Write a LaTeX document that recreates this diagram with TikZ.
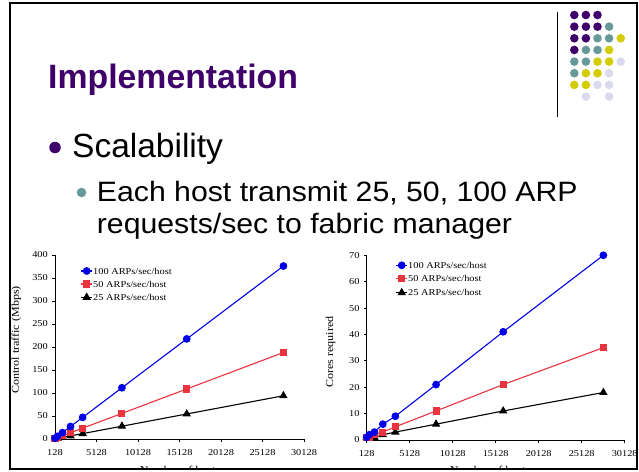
\documentclass[tikz,border=0pt]{standalone}
\usepackage{fontspec}
\setmainfont{Liberation Serif}
\newfontfamily\slidefont{Liberation Sans}
\newfontfamily\slidewide[FakeStretch=1.08]{Liberation Sans}
\newfontfamily\chartfont[FakeStretch=1.15]{Liberation Serif}
\usetikzlibrary{plotmarks}
\definecolor{ttlpurple}{RGB}{64,0,106}
\definecolor{dpurple}{RGB}{64,0,106}
\definecolor{dteal}{RGB}{102,153,153}
\definecolor{dyellow}{RGB}{210,204,0}
\definecolor{dlav}{RGB}{218,218,238}
\definecolor{cblue}{RGB}{0,0,230}
\definecolor{cred}{RGB}{232,52,62}
\tikzset{
  frameline/.style={line width=2pt, black},
  dotP/.style={circle, fill=dpurple, inner sep=0, minimum size=8.6pt},
  dotT/.style={circle, fill=dteal, inner sep=0, minimum size=8.6pt},
  dotY/.style={circle, fill=dyellow, inner sep=0, minimum size=8.6pt},
  dotL/.style={circle, fill=dlav, inner sep=0, minimum size=8.6pt},
  axisline/.style={line width=0.7pt, black},
  ticklab/.style={font=\chartfont\fontsize{9}{10}\selectfont, inner sep=0},
  legtext/.style={font=\chartfont\fontsize{9}{10}\selectfont, inner sep=0, anchor=west},
  axtitle/.style={font=\chartfont\fontsize{10.5}{12}\selectfont, inner sep=0},
  series/.style={line width=1.1pt},
  blueser/.style={series, cblue, mark=*, mark size=3.3pt, mark options={fill=cblue, draw=cblue}},
  redser/.style={series, cred, mark=square*, mark size=3pt, mark options={fill=cred, draw=cred}},
  blkser/.style={series, black, mark=triangle*, mark size=3.8pt, mark options={fill=black, draw=black}},
}
\begin{document}
\begin{tikzpicture}[x=1pt,y=-1pt]
\useasboundingbox (0,0) rectangle (639,471);
\fill[white] (0,0) rectangle (639,471);

% ---- decoration ----
\draw[line width=1.2pt] (557.3,12) -- (557.3,117);
\foreach \r/\c/\s [count=\n] in {
  0/0/P,0/1/P,0/2/P,
  1/0/P,1/1/P,1/2/P,1/3/T,
  2/0/P,2/1/P,2/2/T,2/3/T,2/4/Y,
  3/0/P,3/1/T,3/2/T,3/3/Y,
  4/0/T,4/1/T,4/2/Y,4/3/Y,4/4/L,
  5/0/T,5/1/Y,5/2/Y,5/3/L,
  6/0/Y,6/1/Y,6/2/L,6/3/L,
  7/1/L,7/3/L}
  \node[dot\s] (dot\n) at (574.3+11.6*\c, 15+11.65*\r) {};

% ---- title and bullets ----
\node[anchor=base west, inner sep=0, text=ttlpurple,
      font=\slidefont\bfseries\fontsize{33.8}{38}\selectfont] (title) at (48,88.3) {Implementation};
\node[circle, fill=dpurple, inner sep=0, minimum size=11.5pt] (bul1) at (55,147.5) {};
\node[anchor=base west, inner sep=0, font=\slidefont\fontsize{33.5}{38}\selectfont] (txt1) at (72,157) {Scalability};
\node[circle, fill=dteal, inner sep=0, minimum size=9.5pt] (bul2) at (81.5,192.5) {};
\node[anchor=base west, inner sep=0, font=\slidewide\fontsize{28}{32}\selectfont] (txt2) at (96.7,201.3) {Each host transmit 25, 50, 100 ARP};
\node[anchor=base west, inner sep=0, font=\slidewide\fontsize{28}{32}\selectfont] (txt3) at (96.7,233.5) {requests/sec to fabric manager};

% ---- left chart ----
\begin{scope}[shift={(53.94,439)}, x=8.3pt, y=0.46pt]
  \draw[axisline] (0.128,400) -- (0.128,0) -- (30.128,0);
  \foreach \v in {0,50,...,400} {
    \draw[axisline] (0.128,\v) -- ++(-3pt,0);
    \node[ticklab, anchor=east] (ly\v) at ([xshift=-7pt]0.128,\v) {\v};
  }
  \foreach \k/\lab [count=\i] in {0.128/128,5.128/5128,10.128/10128,15.128/15128,20.128/20128,25.128/25128,30.128/30128} {
    \draw[axisline] (\k,0) -- ++(0,-3pt);
    \node[ticklab] (lx\i) at ([yshift=-14pt]\k,0) {\lab};
  }
  \draw[blkser] plot coordinates {(0.128,0.44) (0.432,1.47) (1.024,3.48) (2.0,6.8) (3.456,11.75) (8.192,27.85) (16.0,54.4) (27.648,94.0)};
  \draw[redser] plot coordinates {(0.128,0.87) (0.432,2.94) (1.024,6.96) (2.0,13.6) (3.456,23.5) (8.192,55.7) (16.0,108.8) (27.648,188.0)};
  \draw[blueser] plot coordinates {(0.128,1.74) (0.432,5.88) (1.024,13.9) (2.0,27.2) (3.456,47.0) (8.192,111.4) (16.0,217.6) (27.648,376.0)};
\end{scope}
% left legend
\draw[blueser, mark indices={2}] plot coordinates {(81,271) (86.7,271) (92,271)};
\node[legtext] (lgL1) at (93,271) {100 ARPs/sec/host};
\draw[redser, mark indices={2}] plot coordinates {(81,284) (86.7,284) (92,284)};
\node[legtext] (lgL2) at (93,284) {50 ARPs/sec/host};
\draw[blkser, mark indices={2}] plot coordinates {(81,297.3) (86.7,297.3) (92,297.3)};
\node[legtext] (lgL3) at (93,297.3) {25 ARPs/sec/host};
\begin{scope}
  \clip (11.5,250) rectangle (40,460);
  \node[axtitle, rotate=90, anchor=base] (ylabL) at (18.8,340) {Control traffic (Mbps)};
\end{scope}

% ---- right chart ----
\begin{scope}[shift={(365.6,440)}, x=8.6pt, y=2.639pt]
  \draw[axisline] (0.128,70) -- (0.128,0) -- (30.128,0);
  \foreach \v in {0,10,...,70} {
    \draw[axisline] (0.128,\v) -- ++(-3pt,0);
    \node[ticklab, anchor=east] (ry\v) at ([xshift=-7pt]0.128,\v) {\v};
  }
  \foreach \k/\lab [count=\i] in {0.128/128,5.128/5128,10.128/10128,15.128/15128,20.128/20128,25.128/25128,30.128/30128} {
    \draw[axisline] (\k,0) -- ++(0,-3pt);
    \node[ticklab] (rx\i) at ([yshift=-14pt]\k,0) {\lab};
  }
  \draw[blkser] plot coordinates {(0.128,1) (0.432,1) (1.024,1) (2.0,2) (3.456,3) (8.192,6) (16.0,11) (27.648,18)};
  \draw[redser] plot coordinates {(0.128,1) (0.432,1) (1.024,2) (2.0,3) (3.456,5) (8.192,11) (16.0,21) (27.648,35)};
  \draw[blueser] plot coordinates {(0.128,1) (0.432,2) (1.024,3) (2.0,6) (3.456,9) (8.192,21) (16.0,41) (27.648,70)};
\end{scope}
% right legend
\draw[blueser, mark indices={2}] plot coordinates {(396,265.3) (401.7,265.3) (407,265.3)};
\node[legtext] (lgR1) at (408,265.3) {100 ARPs/sec/host};
\draw[redser, mark indices={2}] plot coordinates {(396,278.7) (401.7,278.7) (407,278.7)};
\node[legtext] (lgR2) at (408,278.7) {50 ARPs/sec/host};
\draw[blkser, mark indices={2}] plot coordinates {(396,292.7) (401.7,292.7) (407,292.7)};
\node[legtext] (lgR3) at (408,292.7) {25 ARPs/sec/host};
\node[axtitle, rotate=90, anchor=base] (ylabR) at (333,352) {Cores required};

% ---- x-axis titles (cut by slide edge) ----
\begin{scope}
  \clip (0,440) rectangle (639,468.5);
  \node[axtitle, anchor=north] (xlabL) at (180,466.3) {Number of hosts};
  \node[axtitle, anchor=north] (xlabR) at (490,466.3) {Number of hosts};
\end{scope}

% ---- slide frame ----
\draw[frameline] (10,3) rectangle (637,469);
\end{tikzpicture}
\end{document}
